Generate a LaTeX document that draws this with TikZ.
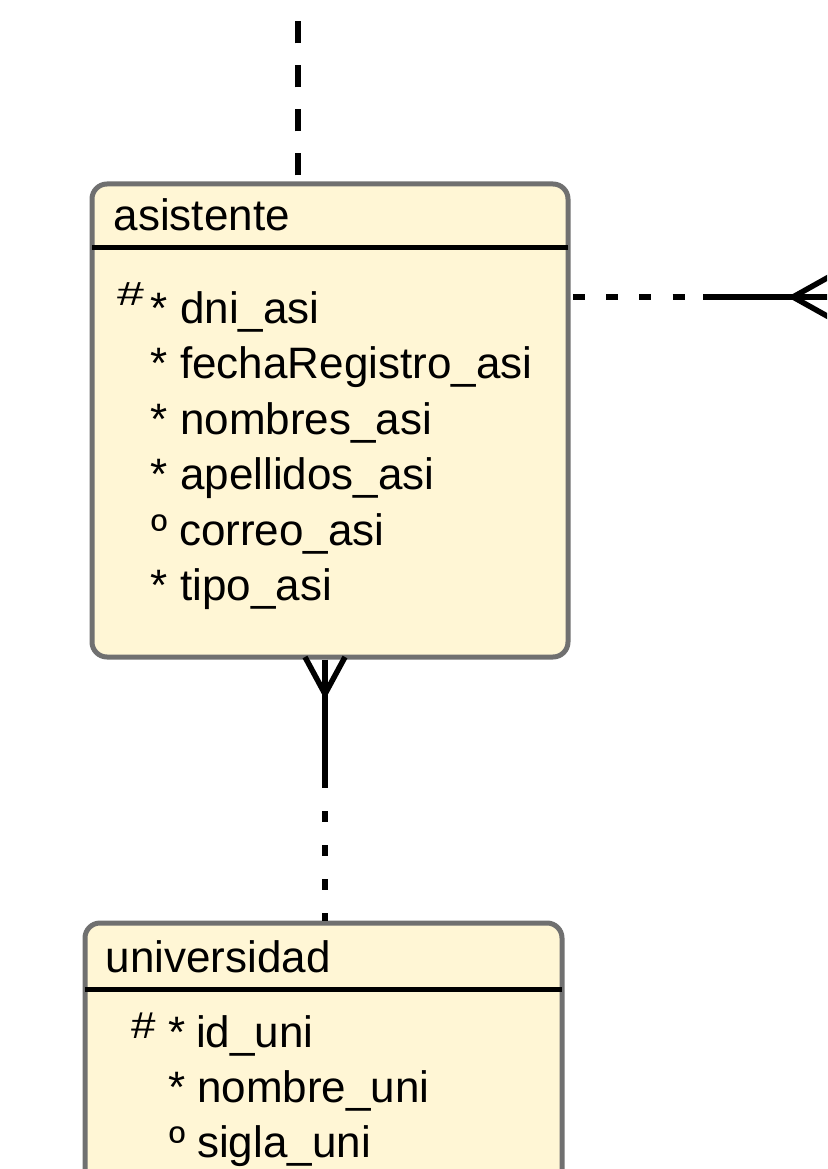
\documentclass[tikz,border=0pt]{standalone}
\usepackage{fontspec}
\setmainfont{Liberation Sans}
\definecolor{entfill}{HTML}{FFF6D5}
\definecolor{entborder}{HTML}{707070}
\begin{document}
\begin{tikzpicture}[x=1pt,y=-1pt,
  entity/.style={draw=entborder, line width=5pt, fill=entfill, rounded corners=15pt, inner sep=0pt},
  sepline/.style={line width=5pt, black, shorten <=2.5pt, shorten >=2.5pt},
  attr/.style={anchor=base west, inner sep=0pt, font=\fontsize{44}{52}\selectfont},
  keymark/.style={anchor=base west, inner sep=0pt, font=\fontsize{44}{52}\selectfont},
  rel/.style={line width=5.5pt, black},
  foot/.style={line width=5.5pt, black, line join=miter}
  ]
\useasboundingbox (0,0) rectangle (827,1169);
\clip (0,0) rectangle (827,1169);

% entities
\node[entity, minimum width=476pt, minimum height=473pt] (asi) at (330,420.5) {};
\node[entity, minimum width=477pt, minimum height=400pt] (uni) at (323.5,1123) {};

\draw[sepline] (asi.west |- 0,247) -- (asi.east |- 0,247);
\draw[sepline] (uni.west |- 0,989) -- (uni.east |- 0,989);

% asistente texts
\node[attr] (asiT) at (113.5,230) {asistente};
\node[keymark] (asiK) at (117,305) {\scalebox{1.1}[0.76]{\#}};
\node[attr] (asiS1) at (150,323) {*};
\node[attr] (asiA1) at (180,323) {dni\_asi};
\node[attr] (asiS2) at (150,378.5) {*};
\node[attr] (asiA2) at (180,378.5) {fechaRegistro\_asi};
\node[attr] (asiS3) at (150,434) {*};
\node[attr] (asiA3) at (180,434) {nombres\_asi};
\node[attr] (asiS4) at (150,489.5) {*};
\node[attr] (asiA4) at (180,489.5) {apellidos\_asi};
\node[attr] (asiS5) at (151,545) {º};
\node[attr] (asiA5) at (179,545) {correo\_asi};
\node[attr] (asiS6) at (150,600) {*};
\node[attr] (asiA6) at (180,600) {tipo\_asi};

% universidad texts
\node[attr] (uniT) at (105.5,972) {universidad};
\node[keymark] (uniK) at (131,1038) {\scalebox{1}[0.85]{\#}};
\node[attr] (uniS1) at (168.5,1047) {*};
\node[attr] (uniA1) at (196,1047) {id\_uni};
\node[attr] (uniS2) at (168.5,1102) {*};
\node[attr] (uniA2) at (197,1102) {nombre\_uni};
\node[attr] (uniS3) at (169,1157) {º};
\node[attr] (uniA3) at (197,1157) {sigla\_uni};

% connector upward
\coordinate (topend) at (298,-10);
\draw[rel, dash pattern=on 22pt off 22pt, dash phase=38pt] (asi.north -| 298,0) -- (topend);

% connector to the right
\coordinate (rsolid) at (703,297);
\coordinate (rfoot) at (793,297);
\coordinate (rightend) at (870,297);
\coordinate (rarmA) at (870,254);
\coordinate (rarmB) at (870,340);
\draw[rel, dash pattern=on 12pt off 21.3pt, dash phase=31pt] (asi.east |- 0,297) -- (rsolid);
\draw[rel] (rsolid) -- (rightend);
\draw[foot] (rarmA) -- (rfoot) -- (rarmB);

% connector asistente - universidad
\coordinate (bfoot) at (325,694);
\coordinate (bmid) at (325,788);
\coordinate (barmA) at (305,657);
\coordinate (barmB) at (345,657);
\draw[rel] (asi.south -| 325,0) -- (bmid);
\draw[rel, dash pattern=on 11pt off 23pt, dash phase=11pt] (bmid) -- (uni.north -| 325,0);
\draw[foot] (barmA) -- (bfoot) -- (barmB);
\end{tikzpicture}
\end{document}
